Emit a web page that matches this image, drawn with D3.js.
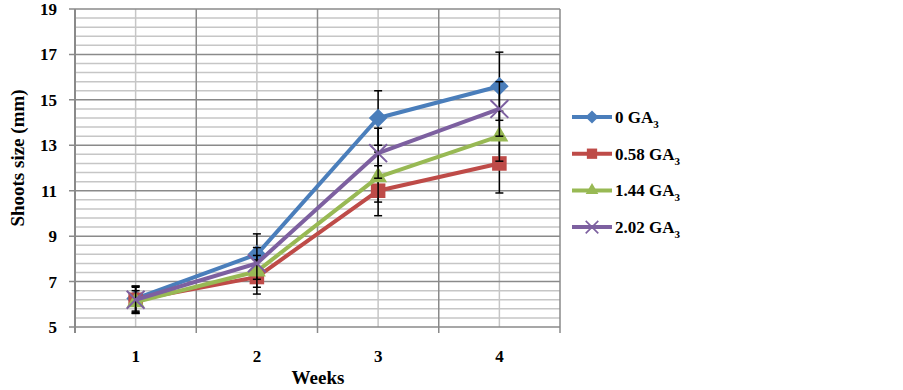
<!DOCTYPE html>
<meta charset="utf-8" />
<title>Shoots size by week</title>
<style>
  body { margin: 0; background: #fff; }
  svg { display: block; }
  text {
    font-family: "Liberation Serif", "Times New Roman", serif;
    font-weight: bold;
    fill: #000;
  }
</style>
<body>
  <svg width="903" height="390"></svg>
  <script src="https://d3js.org/d3.v7.min.js"></script>
  <script>
    const weeks = ["1", "2", "3", "4"];
    const seriesNames = ["0", "0.58", "1.44", "2.02"];
    const seriesColors = ["#4A7EBB", "#BE4B48", "#98B954", "#7D60A0"];
    const seriesSymbols = ["diamond", "square", "triangle", "x"];

    const vals0 = [6.25, 8.2, 14.2, 15.6];
    const vals058 = [6.2, 7.2, 11.0, 12.2];
    const vals144 = [6.1, 7.45, 11.6, 13.4];
    const vals202 = [6.2, 7.8, 12.65, 14.6];

    const err0 = [0.55, 0.9, 1.2, 1.5];
    const err058 = [0.6, 0.75, 1.1, 1.3];
    const err144 = [0.5, 0.7, 1.1, 1.1];
    const err202 = [0.55, 0.7, 1.1, 1.2];

    const yTicks = [5, 7, 9, 11, 13, 15, 17, 19];

    const allVals = [vals0, vals058, vals144, vals202];
    const allErr = [err0, err058, err144, err202];

    const svg = d3.select("svg");
    const pLeft = 75, pRight = 560, pTop = 9, pBottom = 327;

    const x = d3.scaleBand().domain(weeks).range([pLeft, pRight]).padding(0);
    const y = d3.scaleLinear().domain([5, 19]).range([pBottom, pTop]);
    const cx = d => x(d) + x.bandwidth() / 2;

    // minor horizontal gridlines every 0.4
    const minor = d3.range(5, 19.001, 0.4).filter(v => Math.abs((v - 5) / 2 - Math.round((v - 5) / 2)) > 0.01);
    const grid = svg.append("g");
    grid.selectAll(".minor").data(minor).join("line")
      .attr("x1", pLeft).attr("x2", pRight)
      .attr("y1", d => y(d)).attr("y2", d => y(d))
      .attr("stroke", "#c6c6c6").attr("stroke-width", 1.5);

    // category centre verticals (light)
    grid.selectAll(".vc").data(weeks).join("line")
      .attr("x1", d => cx(d)).attr("x2", d => cx(d))
      .attr("y1", pTop).attr("y2", pBottom)
      .attr("stroke", "#c6c6c6").attr("stroke-width", 1.5);

    // major horizontal gridlines
    grid.selectAll(".major").data(yTicks).join("line")
      .attr("x1", pLeft - 6).attr("x2", pRight)
      .attr("y1", d => y(d)).attr("y2", d => y(d))
      .attr("stroke", "#8a8a8a").attr("stroke-width", 1.5);

    // band boundary verticals (dark)
    const bounds = weeks.map(w => x(w)).concat([pRight]);
    grid.selectAll(".vb").data(bounds).join("line")
      .attr("x1", d => d).attr("x2", d => d)
      .attr("y1", pTop).attr("y2", (d, i) => i === 0 ? pBottom + 1 : pBottom + 6)
      .attr("stroke", "#8a8a8a").attr("stroke-width", 1.5);

    svg.append("line")
      .attr("x1", pLeft).attr("x2", pLeft).attr("y1", pTop).attr("y2", pBottom + 6)
      .attr("stroke", "#8a8a8a").attr("stroke-width", 2);

    // y tick labels
    svg.append("g").selectAll("text").data(yTicks).join("text")
      .attr("x", 57).attr("y", d => y(d)).attr("dy", "0.35em")
      .attr("text-anchor", "end").attr("font-size", 17)
      .text(d => d);

    // x tick labels
    svg.append("g").selectAll("text").data(weeks).join("text")
      .attr("x", d => cx(d)).attr("y", 362)
      .attr("text-anchor", "middle").attr("font-size", 17)
      .text(d => d);

    svg.append("text").attr("x", 318).attr("y", 384)
      .attr("text-anchor", "middle").attr("font-size", 19).text("Weeks");

    svg.append("text")
      .attr("transform", "translate(24,158) rotate(-90)")
      .attr("text-anchor", "middle").attr("font-size", 19)
      .text("Shoots size (mm)");

    function symbolPath(kind, scale) {
      if (kind === "diamond") return d3.symbol(d3.symbolDiamond2, 220 * scale)();
      if (kind === "square") return d3.symbol(d3.symbolSquare2, 270 * scale)();
      if (kind === "triangle") return d3.symbol(d3.symbolTriangle2, 230 * scale)();
      return d3.symbol(d3.symbolX, 210 * scale)();
    }

    const line = d3.line().x((d, i) => cx(weeks[i])).y(d => y(d));

    allVals.forEach((vals, s) => {
      const g = svg.append("g");
      g.append("path").datum(vals)
        .attr("d", line).attr("fill", "none")
        .attr("stroke", seriesColors[s]).attr("stroke-width", 4)
        .attr("stroke-linejoin", "round");

      const eb = g.append("g").selectAll("g").data(vals).join("g");
      eb.append("line")
        .attr("x1", (d, i) => cx(weeks[i])).attr("x2", (d, i) => cx(weeks[i]))
        .attr("y1", (d, i) => y(d - allErr[s][i])).attr("y2", (d, i) => y(d + allErr[s][i]))
        .attr("stroke", "#000").attr("stroke-width", 1.5);
      [-1, 1].forEach(sign => {
        eb.append("line")
          .attr("x1", (d, i) => cx(weeks[i]) - 4).attr("x2", (d, i) => cx(weeks[i]) + 4)
          .attr("y1", (d, i) => y(d + sign * allErr[s][i])).attr("y2", (d, i) => y(d + sign * allErr[s][i]))
          .attr("stroke", "#000").attr("stroke-width", 1.5);
      });

      const isX = seriesSymbols[s] === "x";
      g.append("g").selectAll("path").data(vals).join("path")
        .attr("transform", (d, i) => `translate(${cx(weeks[i])},${y(d)})`)
        .attr("d", symbolPath(seriesSymbols[s], 1))
        .attr("fill", isX ? "none" : seriesColors[s])
        .attr("stroke", isX ? seriesColors[s] : "none")
        .attr("stroke-width", isX ? 2 : 0);
    });

    // legend
    const legend = svg.append("g").selectAll("g").data(seriesNames).join("g")
      .attr("transform", (d, i) => `translate(572,${117 + i * 36.7})`);
    legend.append("line").attr("x1", 0).attr("x2", 40)
      .attr("stroke", (d, i) => seriesColors[i]).attr("stroke-width", 4);
    legend.append("path")
      .attr("transform", "translate(20,0)")
      .attr("d", (d, i) => symbolPath(seriesSymbols[i], 0.5))
      .attr("fill", (d, i) => seriesSymbols[i] === "x" ? "none" : seriesColors[i])
      .attr("stroke", (d, i) => seriesSymbols[i] === "x" ? seriesColors[i] : "none")
      .attr("stroke-width", 1.6);
    const lt = legend.append("text").attr("x", 43).attr("dy", "0.35em").attr("font-size", 17);
    lt.append("tspan").text(d => d + " GA");
    lt.append("tspan").attr("font-size", 11).attr("dy", 5).text("3");
  </script>
</body>
